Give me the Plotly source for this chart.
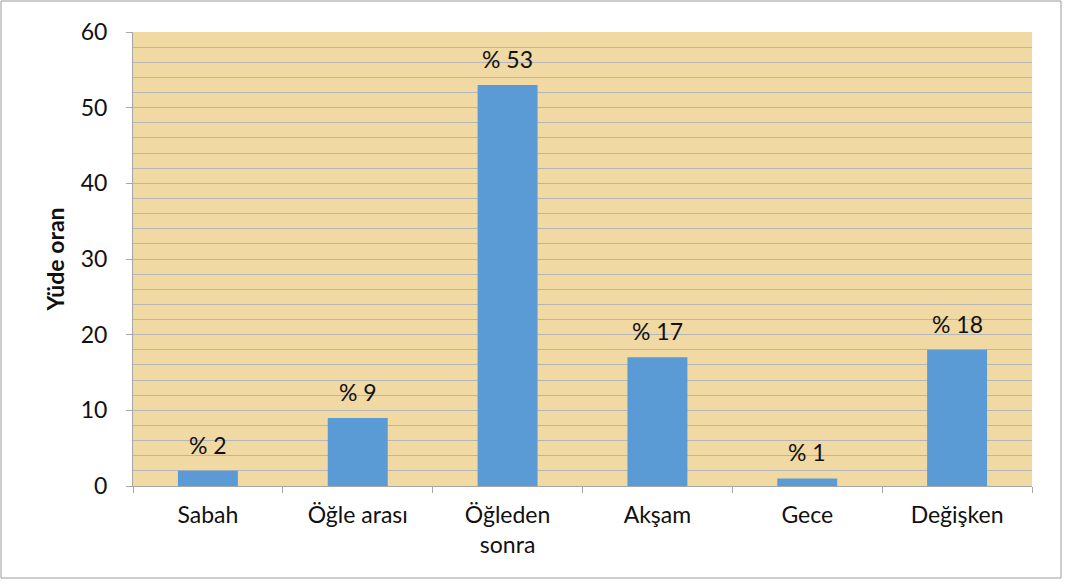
import plotly.graph_objects as go

categories = ["Sabah", "Öğle arası", "Öğleden<br>sonra", "Akşam", "Gece", "Değişken"]
values = [2, 9, 53, 17, 1, 18]
labels = ["% 2", "% 9", "% 53", "% 17", "% 1", "% 18"]
y_ticks = [0, 10, 20, 30, 40, 50, 60]

W, H = 1068, 583
L, R, T, B = 133, 36, 32, 97
pw, ph = W - L - R, H - T - B

def px_x(p):
    return (p - L) / pw

def px_y(p):
    return (H - B - p) / ph

FONT = "Lato, Carlito, sans-serif"

fig = go.Figure()
fig.add_trace(go.Bar(
    x=categories, y=values, width=0.4,
    marker=dict(color="#5B9BD5", line=dict(width=0)),
    hoverinfo="skip",
))
for c, v, t in zip(categories, values, labels):
    fig.add_annotation(x=c, y=v, text=t, showarrow=False, yanchor="bottom",
                       yshift=10, font=dict(family=FONT, size=23, color="#111111"))

fig.update_layout(
    width=W, height=H,
    margin=dict(l=L, r=R, t=T, b=B),
    paper_bgcolor="white",
    plot_bgcolor="#F0D9A2",
    showlegend=False,
    bargap=0.6,
    font=dict(family=FONT, size=23, color="#111111"),
    shapes=[dict(type="rect", xref="paper", yref="paper",
                 x0=px_x(1), x1=px_x(1061), y0=px_y(578), y1=px_y(1),
                 line=dict(color="#9a9a9a", width=1), layer="below")],
)
fig.update_xaxes(
    showline=True, linecolor="#A6A6A6", linewidth=1,
    ticks="outside", tickson="boundaries", ticklen=6, tickcolor="#A6A6A6",
    tickfont=dict(size=23), showgrid=False, ticklabelstandoff=8,
)
fig.update_yaxes(
    range=[0, 60], tickvals=y_ticks,
    showline=True, linecolor="#A6A6A6", linewidth=1,
    ticks="outside", ticklen=6, tickcolor="#A6A6A6",
    tickfont=dict(size=23), ticklabelstandoff=14,
    showgrid=True, gridcolor="#B6B6B8", gridwidth=1,
    minor=dict(dtick=2, showgrid=True, gridcolor="#B6B6B8", gridwidth=1),
    zeroline=False,
    title=dict(text="<b>Yüde oran</b>", font=dict(size=23), standoff=9),
)

fig.write_html("out.html", config={"displayModeBar": False},
               post_script="document.body.style.margin='0';document.body.style.padding='0';")
